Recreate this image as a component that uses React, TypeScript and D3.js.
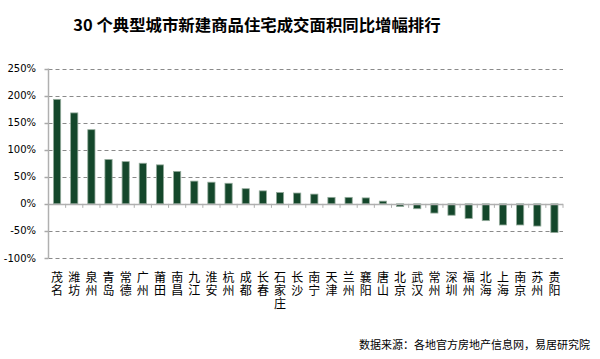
import React from "react";
import * as d3 from "d3";

const cities = ["茂名","潍坊","泉州","青岛","常德","广州","莆田","南昌","九江","淮安","杭州","成都","长春","石家庄","长沙","南宁","天津","兰州","襄阳","唐山","北京","武汉","常州","深圳","福州","北海","上海","南京","苏州","贵阳"];
const growth = [193,168,137,82,78,75,72,60,42,40,38,28,24,21,20,18,12,12,11,5,-5,-9,-17,-21,-27,-31,-39,-39,-41,-53];
const yTicks = [-100,-50,0,50,100,150,200,250];
const title = "30 个典型城市新建商品住宅成交面积同比增幅排行";
const source = "数据来源：各地官方房地产信息网，易居研究院";

export default function App() {
  const W = 600, H = 359;
  const left = 48.5, right = 563, top = 68.5, bottom = 258;
  const x = d3.scaleBand<string>().domain(cities).range([left, right]).paddingInner(0.58).paddingOuter(0.29);
  const y = d3.scaleLinear().domain([-100, 250]).range([bottom, top]);
  const band = (right - left) / cities.length;
  const y0 = y(0);
  return (
    <svg width={W} height={H} style={{ position: "absolute", left: 0, top: 0, background: "#fff" }}>
      <text x={257} y={31} textAnchor="middle" fontFamily="'Noto Sans CJK SC', sans-serif" fontWeight="bold" fontSize={16.4} fill="#000">{title}</text>
      {yTicks.filter(t => t !== 0).map(t => (
        <line key={"g" + t} x1={left} x2={right} y1={Math.round(y(t)) + 0.5} y2={Math.round(y(t)) + 0.5} stroke="#8a8a8a" strokeWidth={1} strokeDasharray="4,3" />
      ))}
      {yTicks.map(t => (
        <g key={"t" + t}>
          <line x1={left - 4} x2={left} y1={Math.round(y(t)) + 0.5} y2={Math.round(y(t)) + 0.5} stroke="#a8a8a8" strokeWidth={1.5} />
          <text x={36} y={y(t) + 3.5} textAnchor="end" fontFamily="'DejaVu Sans', sans-serif" fontSize={10} fill="#000">{t + "%"}</text>
        </g>
      ))}
      {cities.map((c, i) => {
        const v = growth[i];
        const yy = Math.min(y(v), y0);
        const h = Math.abs(y(v) - y0);
        return <rect key={c} x={x(c)} y={yy} width={x.bandwidth()} height={h} fill="#14472b" stroke="#94ab9c" strokeWidth={0.8} />;
      })}
      <line x1={left} x2={left} y1={top} y2={bottom} stroke="#b0b0b0" strokeWidth={1.5} />
      <line x1={left} x2={right} y1={Math.round(y0) + 0.5} y2={Math.round(y0) + 0.5} stroke="#b0b0b0" strokeWidth={1.5} />
      {d3.range(cities.length + 1).map(i => (
        <line key={"xt" + i} x1={left + i * band} x2={left + i * band} y1={y0} y2={y0 + 4} stroke="#b0b0b0" strokeWidth={1} />
      ))}
      {cities.map(c => (
        <text key={"l" + c} x={(x(c) as number) + x.bandwidth() / 2} y={271.5} fontFamily="'Noto Sans CJK SC', sans-serif" fontSize={12} letterSpacing={1.2} fill="#000" style={{ writingMode: "vertical-rl" }}>{c}</text>
      ))}
      <text x={590} y={349} textAnchor="end" fontFamily="'Noto Sans CJK SC', sans-serif" fontSize={11} fill="#000">{source}</text>
    </svg>
  );
}
